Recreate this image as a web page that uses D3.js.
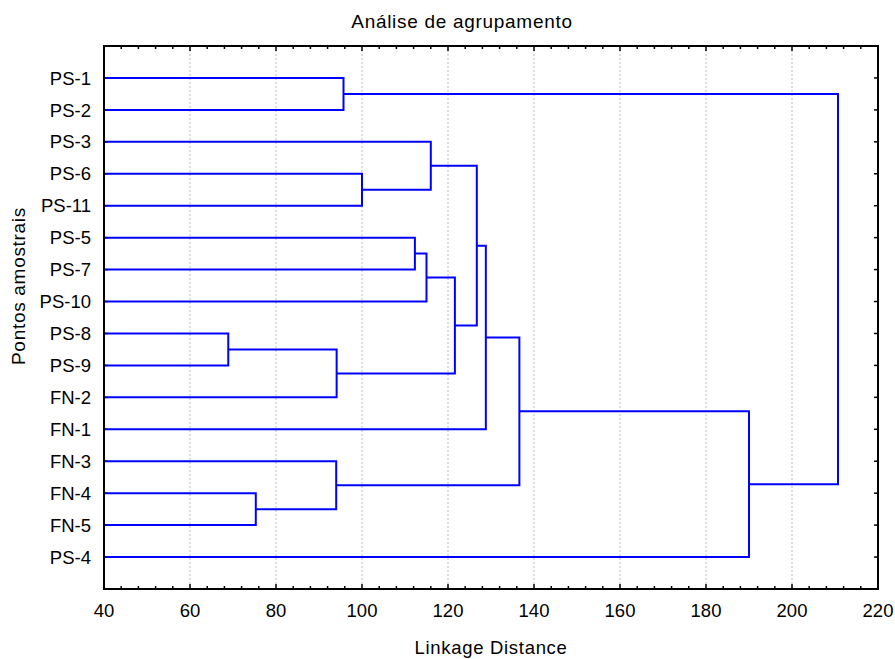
<!DOCTYPE html>
<html>
<head>
<meta charset="utf-8">
<script src="https://cdn.jsdelivr.net/npm/d3@7"></script>
<style>
body{margin:0;background:#fff;}
text{font-family:"Liberation Sans",Arial,sans-serif;fill:#000;}
</style>
</head>
<body>
<svg id="chart" width="895" height="659"></svg>
<script>
const WIDTH=895, HEIGHT=659;
const margin={top:46,right:17,bottom:70,left:104};

// leaf order, top to bottom
const leaves=["PS-1","PS-2","PS-3","PS-6","PS-11","PS-5","PS-7","PS-10","PS-8","PS-9","FN-2","FN-1","FN-3","FN-4","FN-5","PS-4"];
// merges: ids 0..15 are leaves, merge k makes node 16+k
const merges=[[8,9],[13,14],[16,10],[12,17],[0,1],[3,4],[5,6],[22,7],[2,21],[23,18],[24,25],[26,11],[27,19],[28,15],[20,29]];
const heights=[68.9,75.3,94.1,94.0,95.7,100.0,112.3,115.0,116.0,121.6,126.7,128.8,136.6,190.0,210.7];
const xTicks=[40,60,80,100,120,140,160,180,200,220];

let svg=d3.select("#chart");
let w=WIDTH-margin.left-margin.right;
let h=HEIGHT-margin.top-margin.bottom;
let g=svg.append("g").attr("transform","translate("+margin.left+","+margin.top+")");

let x=d3.scaleLinear().domain([40,220]).range([0,w]);
let y=d3.scaleLinear().domain([0,leaves.length+1]).range([0,h]);

// grid
g.append("g").selectAll("line")
    .data(xTicks.slice(1,-1)).enter()
    .append("line")
    .attr("x1",d=>x(d)).attr("x2",d=>x(d))
    .attr("y1",0).attr("y2",h)
    .style("stroke","#bdbdbd")
    .style("stroke-width","1px")
    .style("stroke-dasharray","2,2");

// minor ticks every 4 units, top and bottom, pointing in
let minor=d3.range(40,221,4);
let ticks=g.append("g");
ticks.selectAll(".tb").data(minor).enter().append("line")
    .attr("x1",d=>x(d)).attr("x2",d=>x(d))
    .attr("y1",h).attr("y2",d=>h-(d%20==0?5:3))
    .style("stroke","#000").style("stroke-width","1.5px");
ticks.selectAll(".tt").data(minor).enter().append("line")
    .attr("x1",d=>x(d)).attr("x2",d=>x(d))
    .attr("y1",0).attr("y2",d=>(d%20==0?5:3))
    .style("stroke","#000").style("stroke-width","1.5px");
// leaf ticks on both sides
ticks.selectAll(".tl").data(leaves).enter().append("line")
    .attr("x1",0).attr("x2",4)
    .attr("y1",(d,i)=>y(i+1)).attr("y2",(d,i)=>y(i+1))
    .style("stroke","#000").style("stroke-width","1.5px");
ticks.selectAll(".tr").data(leaves).enter().append("line")
    .attr("x1",w).attr("x2",w-4)
    .attr("y1",(d,i)=>y(i+1)).attr("y2",(d,i)=>y(i+1))
    .style("stroke","#000").style("stroke-width","1.5px");

// tick labels
g.append("g").selectAll("text")
    .data(xTicks).enter()
    .append("text")
    .attr("x",d=>x(d)).attr("y",h+28)
    .attr("text-anchor","middle")
    .style("font-size","18.5px")
    .text(d=>d);
g.append("g").selectAll("text")
    .data(leaves).enter()
    .append("text")
    .attr("x",-13).attr("y",(d,i)=>y(i+1))
    .attr("dy","0.36em")
    .attr("text-anchor","end")
    .style("font-size","18.5px")
    .text(d=>d);

// dendrogram
let nodes=leaves.map((d,i)=>({h:40,y:y(i+1)}));
let links=g.append("g");
merges.forEach(function(m,k){
    let a=nodes[m[0]], b=nodes[m[1]];
    let hh=heights[k];
    nodes.push({h:hh,y:(a.y+b.y)/2});
    links.append("path")
        .attr("d","M"+x(a.h)+","+a.y+"H"+x(hh)+"V"+b.y+"H"+x(b.h))
        .style("fill","none")
        .style("stroke","#0000ff")
        .style("stroke-width","2px");
});

// frame
g.append("rect")
    .attr("width",w).attr("height",h)
    .style("fill","none").style("stroke","#000").style("stroke-width","2px");

// titles
svg.append("text")
    .attr("x",462).attr("y",28)
    .attr("text-anchor","middle")
    .style("font-size","19px")
    .style("letter-spacing","0.7px")
    .text("Análise de agrupamento");
svg.append("text")
    .attr("x",margin.left+w/2).attr("y",654)
    .attr("text-anchor","middle")
    .style("font-size","18.5px")
    .style("letter-spacing","0.7px")
    .text("Linkage Distance");
svg.append("text")
    .attr("transform","translate(25,286) rotate(-90)")
    .attr("text-anchor","middle")
    .style("font-size","19px")
    .style("letter-spacing","0.7px")
    .text("Pontos amostrais");
</script>
</body>
</html>
